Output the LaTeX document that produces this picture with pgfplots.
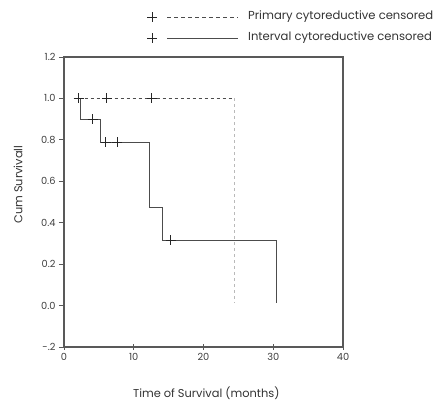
\documentclass[border=0pt]{standalone}
\usepackage{pgfplots}
\pgfplotsset{compat=1.18}
\usepackage{fontspec}
\setmainfont{Poppins}

\definecolor{axisgray}{gray}{0.35}
\definecolor{linegray}{gray}{0.3}

\begin{document}
\begin{tikzpicture}
\path[use as bounding box] (-64bp,-56bp) rectangle (372bp,347bp);
\begin{axis}[
    at={(0,0)}, anchor=south west,
    scale only axis,
    width=279bp, height=290bp,
    xmin=0, xmax=40, ymin=-0.2, ymax=1.2,
    xtick={0,10,20,30,40},
    ytick={-0.2,0,0.2,0.4,0.6,0.8,1.0,1.2},
    yticklabels={-.2,0.0,0.2,0.4,0.6,0.8,1.0,1.2},
    xticklabel style={text=black!75},
    yticklabel style={text=black!75},
    tick label style={font=\fontsize{9.8bp}{11bp}\selectfont},
    /pgf/number format/assume math mode=true,
    axis line style={axisgray, line width=1.2bp},
    x tick style={axisgray, line width=0.8bp},
    y tick style={axisgray, line width=0.8bp},
    xtick pos=bottom, ytick pos=left,
    xtick align=center, ytick align=outside,
    major tick length=5bp,
    xlabel={Time of Survival (months)},
    ylabel={Cum Survivall},
    label style={font=\fontsize{11.4bp}{13bp}\selectfont, text=black!80},
    xlabel style={at={(axis description cs:0.51,-0.158)}, anchor=center},
    ylabel style={at={(axis description cs:-0.165,0.56)}, anchor=center},
]
% interval cytoreductive: step curve
\addplot[linegray, line width=0.9bp] coordinates {
    (2.1,1.0) (2.3,1.0) (2.3,0.9) (5.2,0.9) (5.2,0.7875)
    (12.3,0.7875) (12.3,0.4725) (14.05,0.4725) (14.05,0.315)
    (30.4,0.315) (30.4,0.01)
};
% primary cytoreductive: step curve
\addplot[linegray, line width=0.9bp, dash pattern=on 3bp off 3bp] coordinates {
    (2.1,1.0) (24.4,1.0)
};
\addplot[gray!55, line width=0.9bp, dash pattern=on 3bp off 3bp] coordinates {
    (24.4,1.0) (24.4,0.01)
};
% censored marks
\addplot[only marks, mark=+, mark size=5bp, black!85, mark options={line width=0.8bp}] coordinates {
    (2.1,1.0) (6.1,1.0) (12.6,1.0)
};
\addplot[only marks, mark=+, mark size=5bp, black!85, mark options={line width=0.8bp}] coordinates {
    (4.1,0.9) (6.0,0.7875) (7.6,0.7875) (15.3,0.315)
};
\end{axis}
% legend
\begin{scope}[font=\fontsize{11.6bp}{13bp}\selectfont]
\draw[black!85, line width=0.9bp] (83bp,330bp) -- (93bp,330bp) (88bp,325bp) -- (88bp,335bp);
\draw[linegray, line width=0.8bp, dash pattern=on 4bp off 3bp] (103bp,330bp) -- (174bp,330bp);
\node[anchor=west, text=black!80, inner sep=0pt] at (184bp,330bp) {Primary cytoreductive censored};
\draw[black!85, line width=0.9bp] (83bp,309bp) -- (93bp,309bp) (88bp,304bp) -- (88bp,314bp);
\draw[linegray, line width=0.8bp] (103bp,309bp) -- (174bp,309bp);
\node[anchor=west, text=black!80, inner sep=0pt] at (184bp,309bp) {Interval cytoreductive censored};
\end{scope}
\end{tikzpicture}
\end{document}
